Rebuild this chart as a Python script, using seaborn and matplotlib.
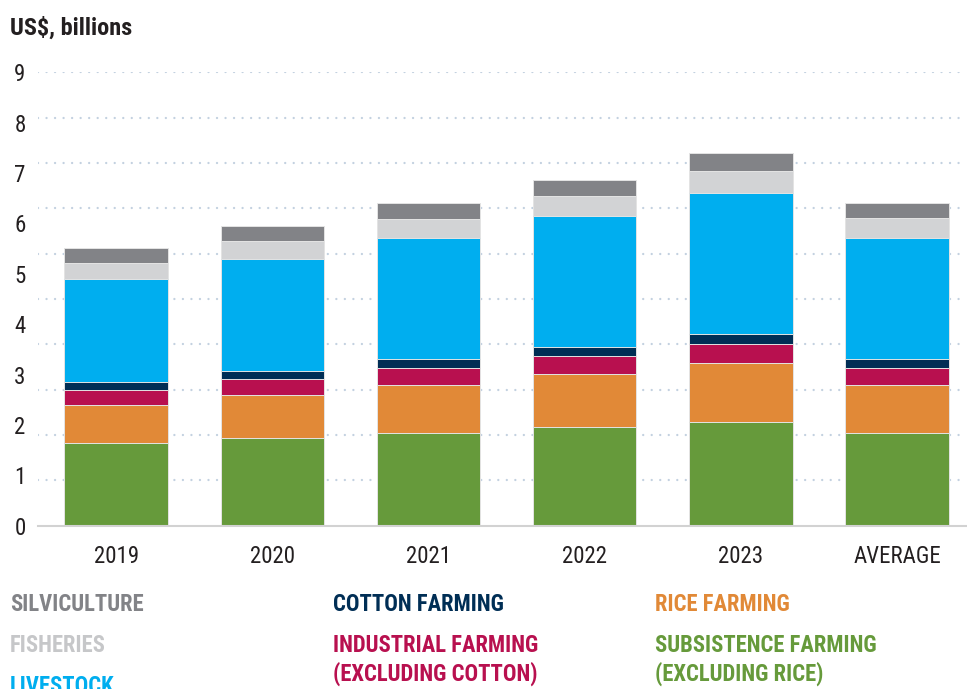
import numpy as np
import matplotlib
matplotlib.use("Agg")
import matplotlib.pyplot as plt
from matplotlib import font_manager
import seaborn as sns

# ---- data (US$ billions) ----
categories = ["2019", "2020", "2021", "2022", "2023", "AVERAGE"]
subsistence = [1.65, 1.75, 1.85, 1.96, 2.05, 1.85]
rice = [0.75, 0.85, 0.95, 1.05, 1.18, 0.95]
industrial = [0.29, 0.31, 0.33, 0.35, 0.37, 0.33]
cotton = [0.16, 0.17, 0.18, 0.19, 0.20, 0.18]
livestock = [2.05, 2.22, 2.40, 2.59, 2.81, 2.41]
fisheries = [0.32, 0.36, 0.38, 0.40, 0.44, 0.38]
silviculture = [0.29, 0.29, 0.31, 0.33, 0.35, 0.31]
y_tick_values = [0, 1, 2, 3, 4, 5, 6, 7, 8, 9]

# stacking order, bottom to top
series = [
    ("SUBSISTENCE FARMING\n(EXCLUDING RICE)", subsistence, "#669a3b"),
    ("RICE FARMING", rice, "#e18937"),
    ("INDUSTRIAL FARMING\n(EXCLUDING COTTON)", industrial, "#b8104f"),
    ("COTTON FARMING", cotton, "#002e55"),
    ("LIVESTOCK", livestock, "#00aeef"),
    ("FISHERIES", fisheries, "#d2d3d5"),
    ("SILVICULTURE", silviculture, "#828387"),
]

sns.set_theme(style="white")

# prefer a narrow sans face when one is installed
entries = font_manager.fontManager.ttflist
names = {f.name for f in entries}
family, stretch = "DejaVu Sans", "normal"
for cand in ["Liberation Sans Narrow", "Roboto Condensed", "Open Sans Condensed",
             "Noto Sans Condensed", "DejaVu Sans Condensed", "Arial Narrow"]:
    if cand in names:
        family = cand
        break
else:
    cond = [f for f in entries
            if f.name in ("DejaVu Sans", "Noto Sans", "Open Sans", "Roboto")
            and str(f.stretch) in ("condensed", "semi-condensed", "extra-condensed")]
    if cond:
        family, stretch = cond[0].name, str(cond[0].stretch)
plt.rcParams["font.family"] = [family, "DejaVu Sans"]
plt.rcParams["font.stretch"] = stretch
narrow = family != "DejaVu Sans" or stretch != "normal"
fs = 1.0 if narrow else 0.82

W, H = 967, 689
fig = plt.figure(figsize=(W / 100, H / 100), dpi=100)
ax_left, ax_bottom_px, ax_top_px = 38, 525.7, 72.3
ax = fig.add_axes([ax_left / W, (H - ax_bottom_px) / H,
                   (W - ax_left) / W, (ax_bottom_px - ax_top_px) / H])

# cumulative heights: draw tallest first so each lower stack covers the part below
cum = np.cumsum([s[1] for s in series], axis=0)
for i in range(len(series) - 1, -1, -1):
    sns.barplot(x=categories, y=cum[i], order=categories, color=series[i][2],
                saturation=1, width=0.663, edgecolor="#e4e4e4", linewidth=0.7,
                ax=ax, zorder=3)

# dotted horizontal guides
for v in np.arange(0.9, 9.01, 0.9):
    ax.axhline(v, color="#c3d1e0", linewidth=1.7, linestyle=(0, (0.01, 3.6)),
               dash_capstyle="round", zorder=0)

for side in ["top", "right", "left"]:
    ax.spines[side].set_visible(False)
ax.spines["bottom"].set_color("#d2d2d2")
ax.spines["bottom"].set_linewidth(1.5)
ax.spines["bottom"].set_zorder(4)

ax.set_xticks(range(len(categories)))
ax.set_xticklabels(categories)
ax.set_xticks(np.arange(-0.5, len(categories) - 0.4, 1.0), minor=True)
ax.tick_params(axis="x", which="major", length=0, pad=14, labelsize=16.5 * fs,
               labelcolor="#231f20")
ax.tick_params(axis="x", which="minor", length=6, width=1.2, direction="in",
               color="#d2d2d2")
ax.set_yticks(y_tick_values)
ax.set_yticklabels([str(v) for v in y_tick_values])
ax.tick_params(axis="y", length=0, pad=9, labelsize=16.5 * fs, labelcolor="#231f20")
ax.set_xlabel("")
ax.set_ylabel("")
ax.grid(False)

# limits last, so tick placement cannot widen them
ax.set_xlim(-0.5, -0.5 + (W - ax_left) / 156.2)
ax.set_ylim(0, 9)

# title
fig.text(10 / W, 1 - 35 / H, "US$, billions", fontsize=17.5 * fs, fontweight="bold",
         color="#231f20", va="baseline", ha="left")

# legend as coloured labels in three columns
legend_layout = [
    ("SILVICULTURE", 10, 611), ("FISHERIES", 10, 652), ("LIVESTOCK", 10, 693),
    ("COTTON FARMING", 333, 611), ("INDUSTRIAL FARMING\n(EXCLUDING COTTON)", 333, 652),
    ("RICE FARMING", 655, 611), ("SUBSISTENCE FARMING\n(EXCLUDING RICE)", 655, 652),
]
legend_colour = {name: col for name, _, col in series}
legend_colour["FISHERIES"] = "#c6c7c9"
for name, x, y in legend_layout:
    for k, line in enumerate(name.split("\n")):
        fig.text(x / W, 1 - (y + 29 * k) / H, line, fontsize=16.3 * fs, fontweight="bold",
                 color=legend_colour[name], va="baseline", ha="left")

fig.savefig("out.png", dpi=100)
